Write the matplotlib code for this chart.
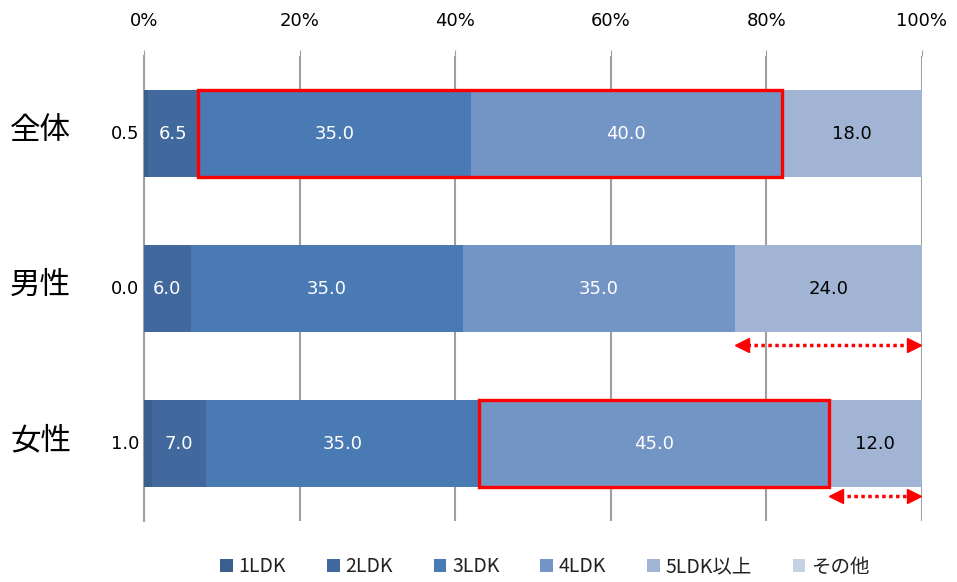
import matplotlib
matplotlib.use("Agg")
import matplotlib.pyplot as plt
from matplotlib.patches import Rectangle
import numpy as np

plt.rcParams['font.family'] = ['Noto Sans CJK JP', 'DejaVu Sans']

categories = ['全体', '男性', '女性']
series = ['1LDK', '2LDK', '3LDK', '4LDK', '5LDK以上', 'その他']
values = {
    '1LDK':    [0.5, 0.0, 1.0],
    '2LDK':    [6.5, 6.0, 7.0],
    '3LDK':    [35.0, 35.0, 35.0],
    '4LDK':    [40.0, 35.0, 45.0],
    '5LDK以上': [18.0, 24.0, 12.0],
    'その他':   [0.0, 0.0, 0.0],
}
colors = ['#3a5f8c', '#42699d', '#4a7ab3', '#7395c5', '#a2b4d4', '#c5d0e4']
text_colors = ['black', 'white', 'white', 'white', 'black', 'black']
xticks = [0, 20, 40, 60, 80, 100]
xticklabels = ['0%', '20%', '40%', '60%', '80%', '100%']

fig = plt.figure(figsize=(9.57, 5.82), dpi=100)
ax = fig.add_axes([144/957, 1-521/582, (922-144)/957, (521-56)/582])

y = np.arange(len(categories))
left = np.zeros(len(categories))
bar_h = 0.56
for i, s in enumerate(series):
    v = np.array(values[s])
    ax.barh(y, v, left=left, height=bar_h, color=colors[i], zorder=3, label=s)
    for j in range(len(categories)):
        if s == 'その他':
            continue
        if i == 0:
            ax.text(-0.6, y[j], f'{v[j]:.1f}', ha='right', va='center',
                    fontsize=13, color='black', family=['DejaVu Sans'])
        elif v[j] > 0:
            ax.text(left[j] + v[j]/2, y[j], f'{v[j]:.1f}', ha='center', va='center',
                    fontsize=13, color=text_colors[i], zorder=5, family=['DejaVu Sans'])
    left = left + v

ax.set_xlim(0, 100)
ax.set_ylim(2.5, -0.5)
ax.set_yticks([])
ax.xaxis.tick_top()
ax.set_xticks(xticks)
ax.set_xticklabels(xticklabels, fontsize=13, family=['DejaVu Sans'])
ax.tick_params(axis='x', length=4, color='#a0a0a0', pad=15)
for sp in ['top', 'right', 'bottom']:
    ax.spines[sp].set_visible(False)
ax.spines['left'].set_color('#a0a0a0')
ax.spines['left'].set_linewidth(1.5)
ax.grid(axis='x', color='#a0a0a0', linewidth=1.5, zorder=0)
ax.set_axisbelow(True)

for j, c in enumerate(categories):
    ax.text(-13.3, y[j] - 0.02, c, ha='center', va='center', fontsize=22)

# red highlight rectangles
cum = {cat: np.cumsum([values[s][j] for s in series]) for j, cat in enumerate(categories)}
r1 = Rectangle((cum['全体'][1], -bar_h/2), values['3LDK'][0] + values['4LDK'][0], bar_h,
               fill=False, edgecolor='#ff0000', linewidth=2.4, zorder=6)
r2 = Rectangle((cum['女性'][2], 2 - bar_h/2), values['4LDK'][2], bar_h,
               fill=False, edgecolor='#ff0000', linewidth=2.4, zorder=6)
ax.add_patch(r1)
ax.add_patch(r2)

# dotted double arrows
for j, yy in [(1, 1.363), (2, 2.338)]:
    x0 = cum[categories[j]][3] + 0.3
    x1 = 99.6
    ax.plot([x0 + 1.2, x1 - 1.2], [yy, yy], color='#ff0000', linestyle=(0, (1, 1)),
            linewidth=2.5, zorder=6, clip_on=False)
    ax.plot([x0 + 0.6], [yy], marker='<', color='#ff0000', markersize=10, zorder=6, clip_on=False)
    ax.plot([x1 - 0.6], [yy], marker='>', color='#ff0000', markersize=10, zorder=6, clip_on=False)

handles, labels = ax.get_legend_handles_labels()
leg = fig.legend(handles, labels, loc='center', bbox_to_anchor=(545/957, 1-567/582),
                 ncol=6, frameon=False, fontsize=14, handlelength=0.65, handleheight=0.65,
                 columnspacing=2.1, handletextpad=0.3, borderpad=0.2)
for t in leg.get_texts():
    t.set_color('#222222')

fig.savefig('out.png', dpi=100)
